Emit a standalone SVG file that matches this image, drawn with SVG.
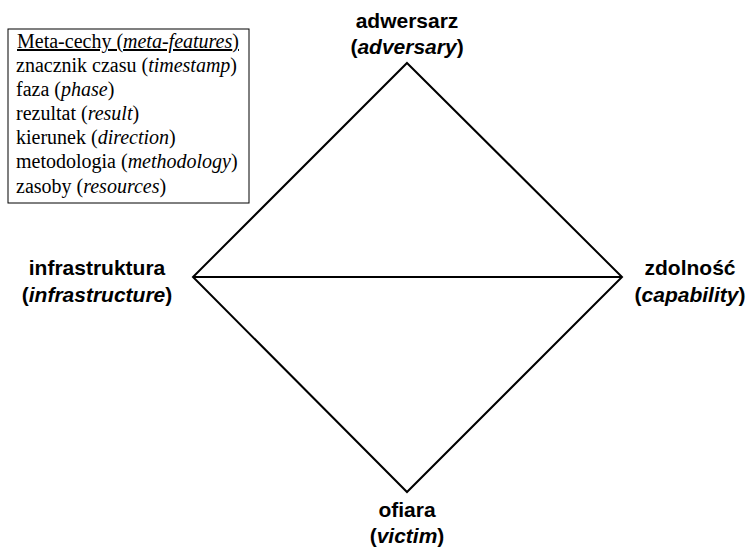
<svg xmlns="http://www.w3.org/2000/svg" width="750" height="549" viewBox="0 0 750 549">
<style>
.lbl{font-family:"Liberation Sans",Arial,sans-serif;font-size:21px;font-weight:bold;fill:#000;text-anchor:middle}
.it{font-style:italic}
.meta{font-family:"Liberation Serif","Times New Roman",serif;font-size:20px;fill:#000}
.edge{stroke:#000;stroke-width:2;fill:none}
</style>
<rect width="750" height="549" fill="#fff"/>
<g id="meta-box">
<rect x="8" y="29" width="241" height="174" fill="#fff" stroke="#000" stroke-width="1"/>
<text class="meta" x="17" y="48" text-decoration="underline">Meta-cechy (<tspan class="it">meta-features</tspan>)</text>
<text class="meta" x="16" y="72">znacznik czasu (<tspan class="it">timestamp</tspan>)</text>
<text class="meta" x="16" y="96">faza (<tspan class="it">phase</tspan>)</text>
<text class="meta" x="16" y="120">rezultat (<tspan class="it">result</tspan>)</text>
<text class="meta" x="16" y="144">kierunek (<tspan class="it">direction</tspan>)</text>
<text class="meta" x="16" y="168">metodologia (<tspan class="it">methodology</tspan>)</text>
<text class="meta" x="16" y="193">zasoby (<tspan class="it">resources</tspan>)</text>
</g>
<g id="connectors">
<polygon class="edge" points="407,63 622,277 407,492 193,277"/>
<line class="edge" x1="193" y1="277" x2="622" y2="277"/>
</g>
<g id="adversary">
<text class="lbl" x="407" y="28">adwersarz</text>
<text class="lbl" x="407" y="54">(<tspan class="it">adversary</tspan>)</text>
</g>
<g id="infrastructure">
<text class="lbl" x="97" y="275">infrastruktura</text>
<text class="lbl" x="97" y="302">(<tspan class="it">infrastructure</tspan>)</text>
</g>
<g id="capability">
<text class="lbl" x="690" y="275">zdolność</text>
<text class="lbl" x="690" y="302">(<tspan class="it">capability</tspan>)</text>
</g>
<g id="victim">
<text class="lbl" x="407" y="517">ofiara</text>
<text class="lbl" x="407" y="543">(<tspan class="it">victim</tspan>)</text>
</g>
</svg>
